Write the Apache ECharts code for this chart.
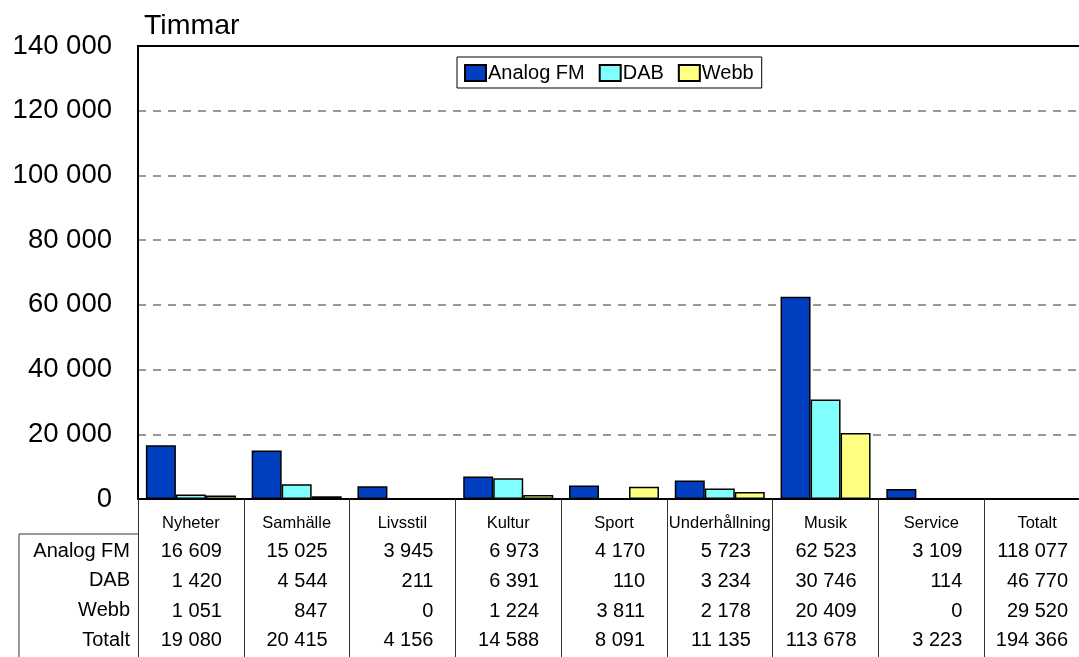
<!DOCTYPE html>
<html>
<head>
<meta charset="utf-8">
<script src="https://cdn.jsdelivr.net/npm/echarts@6/dist/echarts.min.js"></script>
<style>
  html, body { margin: 0; padding: 0; background: #fff; }
  #main { width: 1079px; height: 657px; }
</style>
</head>
<body>
<div id="main"></div>
<script>
// data
var categories = ['Nyheter', 'Samhälle', 'Livsstil', 'Kultur', 'Sport', 'Underhållning', 'Musik', 'Service', 'Totalt'];
var seriesNames = ['Analog FM', 'DAB', 'Webb'];
var analogFM = [16609, 15025, 3945, 6973, 4170, 5723, 62523, 3109, 118077];
var dab = [1420, 4544, 211, 6391, 110, 3234, 30746, 114, 46770];
var webb = [1051, 847, 0, 1224, 3811, 2178, 20409, 0, 29520];
var totalt = [19080, 20415, 4156, 14588, 8091, 11135, 113678, 3223, 194366];
var rowNames = ['Analog FM', 'DAB', 'Webb', 'Totalt'];
var yTickLabels = ['0', '20 000', '40 000', '60 000', '80 000', '100 000', '120 000', '140 000'];

var colors = ['#0040C0', '#80FFFF', '#FFFF80'];
var FONT = 'Liberation Sans, Arial, sans-serif';

function fmt(v) {
    return String(v).replace(/\B(?=(\d{3})+(?!\d))/g, ' ');
}
// Totalt-kolumnen visas bara i tabellen, inga staplar
function barData(arr) {
    return arr.map(function (v, i) { return categories[i] === 'Totalt' ? '-' : v; });
}

var rows = [analogFM, dab, webb, totalt];
var rowMargins = [42, 72, 102, 131];

var xAxes = [{
    type: 'category',
    data: categories,
    position: 'bottom',
    axisLine: { lineStyle: { color: '#000', width: 2 } },
    axisTick: { show: true, interval: 0, length: 160, lineStyle: { color: '#333', width: 1 } },
    axisLabel: { interval: 0, margin: 16, color: '#000', fontSize: 16.5, fontFamily: FONT }
}];
rows.forEach(function (row, r) {
    xAxes.push({
        type: 'category',
        data: categories,
        position: 'bottom',
        axisLine: { show: false },
        axisTick: { show: false },
        splitLine: { show: false },
        axisLabel: {
            interval: 0,
            margin: rowMargins[r],
            align: 'center',
            formatter: function (val, idx) { return '{v|' + fmt(row[idx]) + '}'; },
            rich: { v: { width: 62, align: 'right', fontSize: 20, lineHeight: 20, color: '#000', fontFamily: FONT } }
        }
    });
});

var chart = echarts.init(document.getElementById('main'));
var option = {
    animation: false,
    title: {
        text: 'Timmar',
        left: 139,
        top: 7,
        textStyle: { fontSize: 28.5, fontWeight: 'normal', color: '#000', fontFamily: FONT }
    },
    legend: {
        data: seriesNames,
        left: 457,
        top: 57,
        orient: 'horizontal',
        backgroundColor: '#fff',
        borderColor: '#000',
        borderWidth: 1,
        padding: [6, 8, 5, 7],
        icon: 'rect',
        itemWidth: 21,
        itemHeight: 16,
        itemGap: 14,
        textStyle: { fontSize: 20, color: '#000', fontFamily: FONT, padding: [0, 0, 0, -3] }
    },
    grid: {
        left: 138,
        top: 46,
        width: 952,
        height: 453,
        show: true,
        borderColor: '#000',
        borderWidth: 2,
        containLabel: false,
        outerBoundsMode: 'none'
    },
    xAxis: xAxes,
    yAxis: [{
        type: 'value',
        min: 0,
        max: 140000,
        interval: 20000,
        axisLine: { show: true, lineStyle: { color: '#000', width: 2 } },
        axisTick: { show: false },
        splitLine: {
            show: true,
            showMinLine: false,
            showMaxLine: false,
            lineStyle: { color: '#777', type: [8, 7], width: 1.5 }
        },
        axisLabel: {
            margin: 26,
            color: '#000',
            fontSize: 27.5,
            fontFamily: FONT,
            formatter: function (v) { return yTickLabels[Math.round(v / 20000)]; }
        }
    }],
    series: [analogFM, dab, webb].map(function (arr, i) {
        return {
            name: seriesNames[i],
            type: 'bar',
            barWidth: 30,
            barGap: '0%',
            itemStyle: { color: colors[i], borderColor: '#000', borderWidth: 1.5 },
            data: barData(arr)
        };
    }),
    graphic: [
        { type: 'line', shape: { x1: 19, y1: 534, x2: 138, y2: 534 }, style: { stroke: '#333', lineWidth: 1 } },
        { type: 'line', shape: { x1: 19, y1: 534, x2: 19, y2: 660 }, style: { stroke: '#333', lineWidth: 1 } }
    ].concat(rowNames.map(function (name, r) {
        return {
            type: 'text',
            x: 130,
            y: 551 + r * 29.7,
            style: { text: name, align: 'right', verticalAlign: 'middle', fontSize: 20, fill: '#000', fontFamily: FONT }
        };
    }))
};
chart.setOption(option);
</script>
</body>
</html>
